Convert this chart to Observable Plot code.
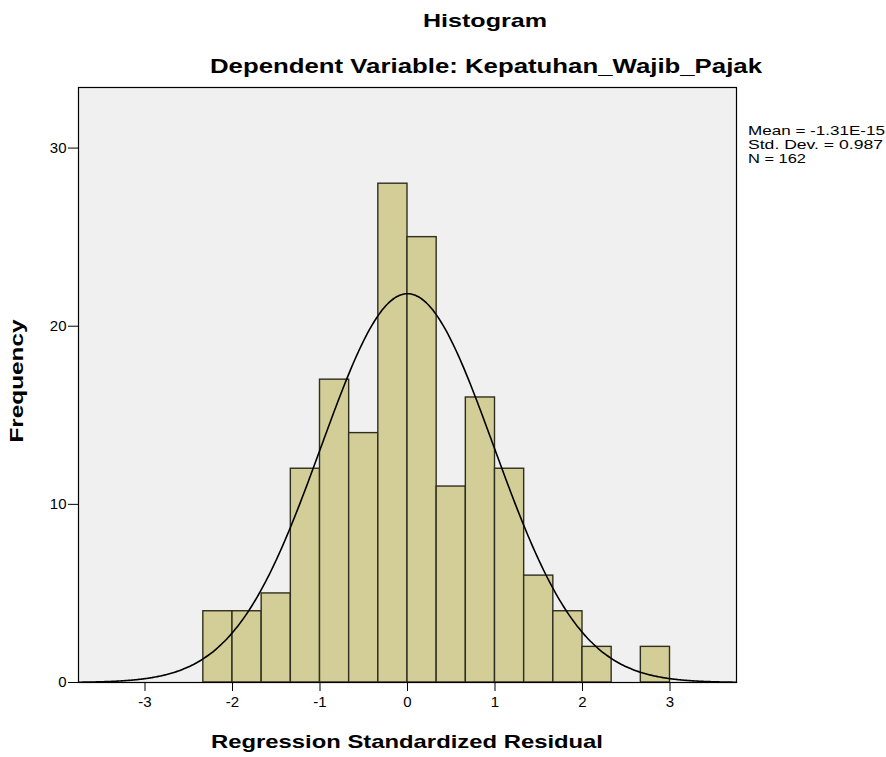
<!DOCTYPE html>
<html>
<head>
<meta charset="utf-8">
<script src="https://cdn.jsdelivr.net/npm/d3@7"></script>
<script src="https://cdn.jsdelivr.net/npm/@observablehq/plot@0.6"></script>
<style>
  html, body { margin: 0; padding: 0; background: #fff; }
  svg { display: block; }
</style>
</head>
<body>
<div id="chart"></div>
<script>
// ---- data ----
const binLower = [-2.3333, -2.0, -1.6667, -1.3333, -1.0, -0.6667, -0.3333, 0.0,
                  0.3333, 0.6667, 1.0, 1.3333, 1.6667, 2.0, 2.3333, 2.6667];
const binWidth = 1 / 3;
const counts = [4, 4, 5, 12, 17, 14, 28, 25, 11, 16, 12, 6, 4, 2, 0, 2];
const xTicks = [-3, -2, -1, 0, 1, 2, 3];
const yTicks = [0, 10, 20, 30];
const statLines = ["Mean = -1.31E-15", "Std. Dev. = 0.987", "N = 162"];
const mean = -1.31e-15;
const sd = 0.987;
const N = 162;

const bins = binLower.map((lo, i) => ({x1: lo, x2: lo + binWidth, count: counts[i]}))
  .filter(d => d.count > 0);

// normal curve implied by the stated mean / sd / N
const xDomain = [-3.76, 3.76];
const curve = d3.range(xDomain[0], xDomain[1] + 1e-9, 0.02).map(x => ({
  x, y: N * binWidth * Math.exp(-0.5 * ((x - mean) / sd) ** 2) / (sd * Math.sqrt(2 * Math.PI))
}));

const W = 886, H = 757;
const chart = Plot.plot({
  width: W,
  height: H,
  marginLeft: 78,
  marginRight: 150,
  marginTop: 87,
  marginBottom: 75,
  style: {fontFamily: "'Liberation Sans', Arial, sans-serif", fontSize: "15px", color: "#000", background: "#fff"},
  x: {domain: xDomain, ticks: xTicks, label: null},
  y: {domain: [0, 33.4], ticks: yTicks, label: null},
  marks: [
    Plot.frame({fill: "#f0f0f0"}),
    Plot.rectY(bins, {x1: "x1", x2: "x2", y1: 0, y2: "count", fill: "#d3ce97", stroke: "#2f2f1f", strokeWidth: 1.4, inset: 0}),
    Plot.line(curve, {x: "x", y: "y", stroke: "#000", strokeWidth: 1.6, curve: "basis"}),
    Plot.frame({stroke: "#000", strokeWidth: 1.2}),
    Plot.axisX({ticks: xTicks, tickSize: 9, tickPadding: 5, tickFormat: d => d, fontSize: 15, label: null, stroke: "#000"}),
    Plot.axisY({ticks: yTicks, tickSize: 10, tickPadding: 2, fontSize: 15, label: null, stroke: "#000"})
  ]
});

const svg = d3.select(chart);
const font = "'Liberation Sans', Arial, sans-serif";
function addText(txt, x, y, opts) {
  const t = svg.append("text")
    .attr("x", x).attr("y", y)
    .attr("font-family", font)
    .attr("font-size", opts.size)
    .attr("font-weight", opts.bold ? "bold" : "normal")
    .attr("text-anchor", opts.anchor || "middle")
    .attr("fill", "#000")
    .text(txt);
  if (opts.len) t.attr("textLength", opts.len).attr("lengthAdjust", "spacingAndGlyphs");
  if (opts.rotate) t.attr("transform", `rotate(-90 ${x} ${y})`);
  return t;
}
addText("Histogram", 485, 27, {size: 19, bold: true, len: 124});
addText("Dependent Variable: Kepatuhan_Wajib_Pajak", 486, 73, {size: 20, bold: true, len: 552});
addText("Regression Standardized Residual", 407, 748, {size: 19, bold: true, len: 392});
addText("Frequency", 23, 381, {size: 19, bold: true, len: 123, rotate: true});
statLines.forEach((s, i) => {
  addText(s, 748, 135 + i * 14, {size: 13.5, anchor: "start", len: [137, 135, 58][i]});
});

document.getElementById("chart").appendChild(chart);
</script>
</body>
</html>
